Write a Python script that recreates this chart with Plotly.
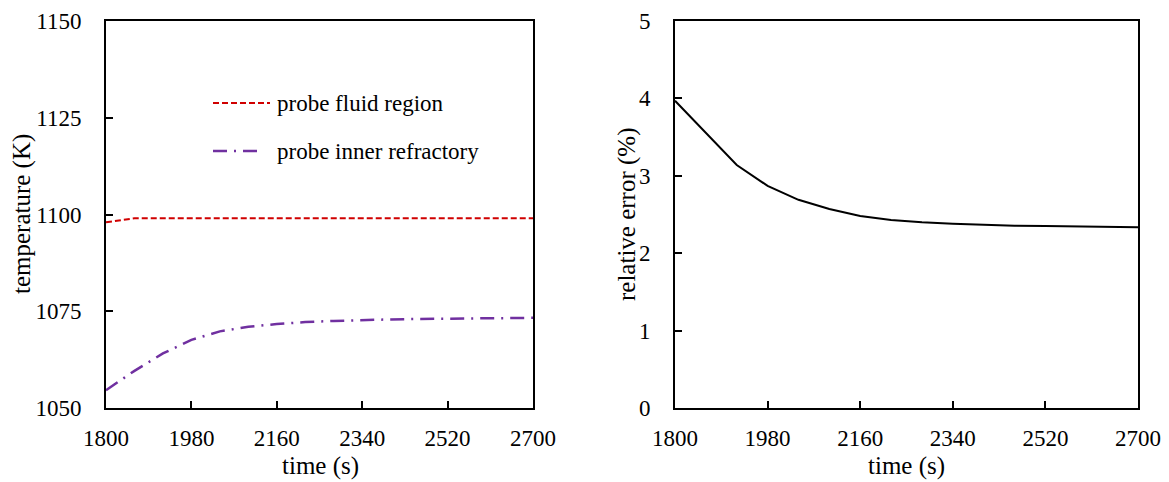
import plotly.graph_objects as go

# ---- data ----
time_s = [1800, 1860, 1920, 1980, 2040, 2100, 2160, 2220, 2280, 2340, 2400,
          2460, 2520, 2580, 2640, 2700]
probe_fluid = [1098.0, 1099.0, 1099.05, 1099.05, 1099.05, 1099.05, 1099.05, 1099.05,
               1099.05, 1099.05, 1099.05, 1099.05, 1099.05, 1099.05, 1099.05, 1099.05]
probe_inner = [1054.6, 1059.6, 1064.1, 1067.6, 1069.8, 1071.0, 1071.7, 1072.2,
               1072.5, 1072.75, 1072.9, 1073.0, 1073.1, 1073.2, 1073.25, 1073.3]
rel_error = [3.97, 3.56, 3.14, 2.87, 2.69, 2.57, 2.48, 2.43, 2.40, 2.38, 2.365,
             2.355, 2.35, 2.345, 2.34, 2.335]

x_ticks = [1800, 1980, 2160, 2340, 2520, 2700]
y1_ticks = [1050, 1075, 1100, 1125, 1150]
y2_ticks = [0, 1, 2, 3, 4, 5]

W, H = 1169, 482
FONT = "Liberation Serif"
FS = 23
PURPLE_DASH = "14px,7px,2px,7px"
RED_DASH = "6px,3px"

def px(x):
    return x / W

def py(y):
    return 1 - y / H

fig = go.Figure()
fig.add_trace(go.Scatter(x=time_s, y=probe_fluid, mode="lines", name="probe fluid region",
                         line=dict(color="#d00000", width=2, dash=RED_DASH),
                         xaxis="x", yaxis="y", showlegend=False))
fig.add_trace(go.Scatter(x=time_s, y=probe_inner, mode="lines", name="probe inner refractory",
                         line=dict(color="#7030a0", width=2.5, dash=PURPLE_DASH),
                         xaxis="x", yaxis="y", showlegend=False))
fig.add_trace(go.Scatter(x=time_s, y=rel_error, mode="lines", name="relative error",
                         line=dict(color="black", width=2),
                         xaxis="x2", yaxis="y2", showlegend=False))

axis_common = dict(showline=True, linecolor="black", linewidth=2, mirror=True,
                   ticks="inside", ticklen=7, tickwidth=1.5, tickcolor="black",
                   showgrid=False, zeroline=False, automargin=False,
                   tickfont=dict(family=FONT, size=FS, color="black"))

ydom = [py(408), py(21)]
fig.update_layout(
    width=W, height=H,
    margin=dict(l=0, r=0, t=0, b=0, autoexpand=False),
    paper_bgcolor="white", plot_bgcolor="white",
    xaxis=dict(domain=[px(106), px(533)], range=[1800, 2700], tickvals=x_ticks,
               anchor="y", ticklabelstandoff=8, **axis_common),
    yaxis=dict(domain=ydom, range=[1050, 1150], tickvals=y1_ticks,
               anchor="x", ticklabelstandoff=18, **axis_common),
    xaxis2=dict(domain=[px(675), px(1138)], range=[1800, 2700], tickvals=x_ticks,
                anchor="y2", ticklabelstandoff=8, **axis_common),
    yaxis2=dict(domain=ydom, range=[0, 5], tickvals=y2_ticks,
                anchor="x2", ticklabelstandoff=18, **axis_common),
)

tf = dict(family=FONT, size=25, color="black")
lf = dict(family=FONT, size=23, color="black")
annots = [
    dict(text="time (s)", x=px(320), y=py(466), xref="paper", yref="paper",
         showarrow=False, font=tf, xanchor="center", yanchor="middle"),
    dict(text="time (s)", x=px(906), y=py(466), xref="paper", yref="paper",
         showarrow=False, font=tf, xanchor="center", yanchor="middle"),
    dict(text="temperature (K)", x=px(22), y=py(214), xref="paper", yref="paper",
         showarrow=False, font=tf, textangle=-90, xanchor="center", yanchor="middle"),
    dict(text="relative error (%)", x=px(627), y=py(214), xref="paper", yref="paper",
         showarrow=False, font=tf, textangle=-90, xanchor="center", yanchor="middle"),
    dict(text="probe fluid region", x=px(275), y=py(103), xref="paper", yref="paper",
         showarrow=False, font=lf, xanchor="left", yanchor="middle"),
    dict(text="probe inner refractory", x=px(275), y=py(151), xref="paper", yref="paper",
         showarrow=False, font=lf, xanchor="left", yanchor="middle"),
]
fig.update_layout(annotations=annots)

fig.update_layout(shapes=[
    dict(type="line", xref="paper", yref="paper", x0=px(213), x1=px(270), y0=py(103), y1=py(103),
         line=dict(color="#d00000", width=2, dash=RED_DASH)),
    dict(type="line", xref="paper", yref="paper", x0=px(213), x1=px(264), y0=py(151), y1=py(151),
         line=dict(color="#7030a0", width=2.5, dash=PURPLE_DASH)),
])

fig.write_html("out.html")
